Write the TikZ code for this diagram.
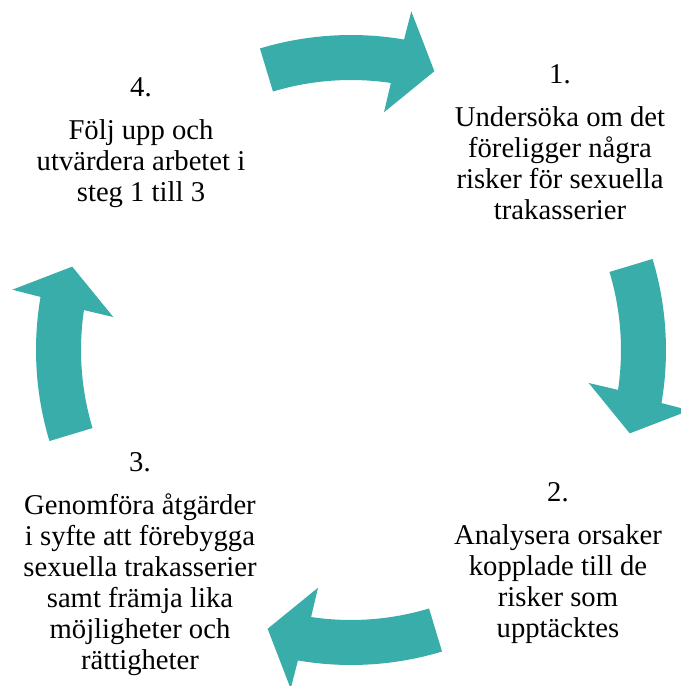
\documentclass[tikz,border=0pt]{standalone}
\usepackage{fontspec}
\setmainfont{Liberation Serif}
\usepackage{tikz}
\definecolor{pilfarg}{RGB}{57,173,169}

\begin{document}
\begin{tikzpicture}[x=0.75pt,y=0.75pt,
		pil/.style={fill=pilfarg},
		stegtext/.style={align=center,inner sep=0pt,anchor=north,font=\fontsize{21.5pt}{23.3pt}\selectfont}]
		\clip (-351,-336) rectangle (330,350);
		\fill[pil] (16.8:315) arc (16.8:-9.7:315) -- (-10.1:344) -- (-16.65:291) -- (-7.9:240) -- (-8.5:270) arc (-8.5:16.8:270) -- cycle;
		\fill[pil] (-73.2:315) arc (-73.2:-99.7:315) -- (-100.1:344) -- (-106.65:291) -- (-97.9:240) -- (-98.5:270) arc (-98.5:-73.2:270) -- cycle;
		\fill[pil] (196.8:315) arc (196.8:170.3:315) -- (169.9:344) -- (163.35:291) -- (172.1:240) -- (171.5:270) arc (171.5:196.8:270) -- cycle;
		\fill[pil] (106.8:315) arc (106.8:80.3:315) -- (79.9:344) -- (73.35:291) -- (82.1:240) -- (81.5:270) arc (81.5:106.8:270) -- cycle;
		\node (steg1) [stegtext, at={(209,285.4)}] {1.\\[8.5pt]Undersöka om det\\föreligger några\\risker för sexuella\\trakasserier};
		\node (steg2) [stegtext, at={(207,-132.6)}] {2.\\[8.5pt]Analysera orsaker\\kopplade till de\\risker som\\upptäcktes};
		\node (steg3) [stegtext, at={(-211,-102.6)}] {3.\\[8.5pt]Genomföra åtgärder\\i syfte att förebygga\\sexuella trakasserier\\samt främja lika\\möjligheter och\\rättigheter};
		\node (steg4) [stegtext, at={(-210,272.4)}] {4.\\[8.5pt]Följ upp och\\utvärdera arbetet i\\steg 1 till 3};
		\end{tikzpicture}
\end{document}
